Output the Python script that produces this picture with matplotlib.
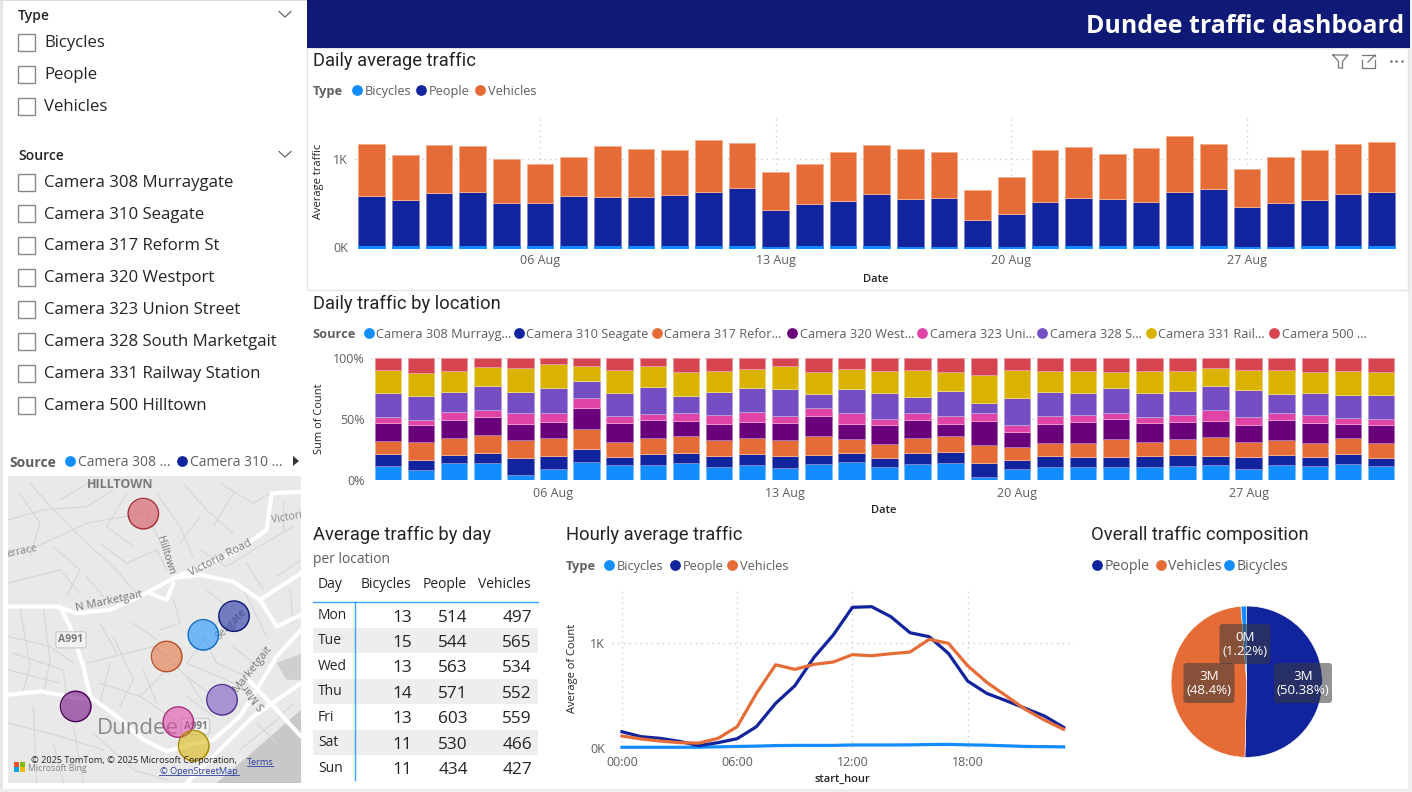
import matplotlib
matplotlib.use('Agg')
import matplotlib.pyplot as plt
from matplotlib.patches import Rectangle, FancyBboxPatch, Polygon

W, H = 1412, 792
plt.rcParams['font.family'] = ['Open Sans', 'DejaVu Sans']

BLUE = '#118DFF'
NAVY = '#12239E'
ORANGE = '#E66C37'
PURPLE = '#6B007B'
PINK = '#E044A7'
VIOLET = '#744EC2'
YELLOW = '#D9B300'
RED = '#D64550'
GREY = '#605E5C'
DARK = '#252423'
TITLE_FONT = ['Roboto', 'DejaVu Sans']

# daily average traffic, 1 to 31 Aug
days = list(range(1, 32))
daily_bicycles = [14, 12, 15, 15, 12, 12, 15, 13, 13, 14, 13, 12, 6, 13, 12, 12,
                  11, 11, 5, 8, 12, 14, 13, 12, 12, 12, 7, 10, 13, 12, 12]
daily_people = [575, 524, 608, 615, 490, 497, 574, 561, 557, 582, 621, 667, 424, 485, 520, 599,
                544, 555, 301, 373, 509, 552, 538, 509, 622, 656, 450, 492, 530, 596, 618]
daily_vehicles = [581, 517, 535, 517, 502, 442, 434, 573, 543, 506, 581, 510, 423, 453, 547, 547,
                  558, 517, 343, 419, 585, 570, 513, 607, 630, 509, 430, 521, 559, 566, 566]
date_ticks = [6, 13, 20, 27]
date_labels = ['06 Aug', '13 Aug', '20 Aug', '27 Aug']

# daily share per camera, percent
cam308 = [11.7, 7.9, 13.9, 13.9, 4.4, 9.0, 14.8, 12.3, 12.6, 13.7, 10.4, 12.3, 9.8, 13.4, 15.0, 10.7,
          12.8, 13.9, 2.5, 9.0, 10.7, 10.4, 10.9, 10.7, 11.2, 12.3, 9.3, 12.0, 11.5, 12.8, 11.2]
cam310 = [9.8, 8.7, 6.8, 8.5, 13.9, 10.9, 10.9, 6.3, 8.7, 8.2, 9.6, 8.7, 10.1, 7.1, 7.4, 7.7,
          9.6, 9.3, 11.7, 7.1, 9.0, 8.2, 8.2, 8.7, 9.6, 7.7, 9.6, 8.7, 7.7, 8.7, 7.1]
cam317 = [10.1, 14.2, 13.7, 14.5, 14.2, 14.5, 16.1, 12.8, 12.8, 13.9, 12.8, 13.4, 12.8, 15.6, 10.9, 11.5,
          12.0, 12.8, 14.5, 10.9, 10.9, 12.0, 14.8, 12.0, 12.6, 15.3, 12.6, 12.0, 11.5, 12.8, 11.7]
cam320 = [15.3, 13.9, 14.5, 14.8, 13.7, 13.4, 17.5, 15.6, 15.3, 12.8, 12.8, 13.1, 13.9, 16.7, 12.8, 15.3,
          15.0, 10.1, 19.9, 12.3, 15.6, 17.2, 16.1, 15.6, 14.5, 13.4, 13.7, 16.7, 16.4, 11.7, 15.3]
cam323 = [4.4, 4.6, 6.8, 5.5, 8.5, 7.4, 7.6, 5.2, 4.9, 6.3, 7.4, 7.9, 5.5, 6.0, 9.0, 4.9,
          5.5, 6.6, 6.0, 6.0, 6.6, 5.2, 4.9, 4.6, 5.7, 9.0, 6.8, 5.2, 6.6, 4.6, 4.6]
cam328 = [19.7, 19.1, 16.7, 20.2, 17.8, 20.2, 14.5, 19.4, 21.9, 13.7, 19.1, 19.7, 22.1, 11.5, 19.1, 21.3,
          13.4, 20.5, 8.7, 22.1, 19.1, 18.0, 20.8, 19.7, 19.7, 19.7, 21.6, 15.6, 18.0, 19.1, 19.9]
cam331 = [19.1, 19.1, 16.9, 15.3, 19.1, 19.4, 12.3, 18.6, 17.2, 19.9, 17.5, 16.1, 19.1, 18.6, 16.4, 18.3,
          21.9, 15.3, 22.9, 22.4, 17.8, 18.0, 12.8, 18.0, 16.4, 14.2, 16.4, 19.9, 16.9, 19.4, 18.9]
cam500 = [9.8, 12.3, 10.7, 7.4, 8.5, 5.2, 6.3, 9.8, 6.6, 11.5, 10.4, 8.7, 6.6, 11.2, 9.3, 10.4,
          9.8, 11.5, 13.7, 10.1, 10.4, 10.9, 11.5, 10.7, 10.4, 8.5, 10.1, 9.8, 11.5, 10.7, 11.2]
camera_series = [cam308, cam310, cam317, cam320, cam323, cam328, cam331, cam500]
camera_colors = [BLUE, NAVY, ORANGE, PURPLE, PINK, VIOLET, YELLOW, RED]

# hourly averages
hours = list(range(24))
hourly_bicycles = [4, 4, 4, 4, 5, 8, 12, 15, 20, 22, 22, 22, 26, 26, 26, 27, 30, 32, 27, 24, 18, 12, 10, 8]
hourly_people = [152, 105, 89, 60, 20, 48, 86, 200, 422, 590, 860, 1073, 1337, 1343, 1248, 1095,
                 1057, 898, 635, 517, 448, 375, 302, 194]
hourly_vehicles = [111, 83, 63, 48, 44, 89, 200, 517, 790, 746, 794, 816, 886, 876, 895, 911,
                   1032, 994, 781, 622, 495, 365, 263, 175]

# table
table_days = ['Mon', 'Tue', 'Wed', 'Thu', 'Fri', 'Sat', 'Sun']
table_bicycles = [13, 15, 13, 14, 13, 11, 11]
table_people = [514, 544, 563, 571, 603, 530, 434]
table_vehicles = [497, 565, 534, 552, 559, 466, 427]

# pie
pie_shares = [50.38, 48.4, 1.22]
pie_colors = [NAVY, ORANGE, BLUE]
pie_labels = ['3M\n(50.38%)', '3M\n(48.4%)', '0M\n(1.22%)']

# slicers
type_items = ['Bicycles', 'People', 'Vehicles']
source_items = ['Camera 308 Murraygate', 'Camera 310 Seagate', 'Camera 317 Reform St', 'Camera 320 Westport',
                'Camera 323 Union Street', 'Camera 328 South Marketgait', 'Camera 331 Railway Station',
                'Camera 500 Hilltown']

# map bubbles, in map units
bubble_x = [610, 702, 500, 227, 535, 666, 581, 430]
bubble_y = [555, 499, 620, 770, 817, 750, 888, 191]
bubble_edges = ['#0D6CC4', '#0B1670', '#B5512A', '#4A0055', '#A8307C', '#4F3490', '#A88A00', '#A5303A']

fig = plt.figure(figsize=(W / 100, H / 100), dpi=100, facecolor='white')


def axes_px(left, top, right, bottom, z=1):
    ax = fig.add_axes([left / W, 1 - bottom / H, (right - left) / W, (bottom - top) / H], zorder=z)
    ax.patch.set_alpha(0)
    for s in ax.spines.values():
        s.set_visible(False)
    return ax


bg = axes_px(0, 0, W, H, z=0)
bg.set_xlim(0, W)
bg.set_ylim(H, 0)
bg.axis('off')


def put(x, y, s, size=9.2, color=GREY, ha='left', va='center', **kw):
    # horizontal text sits a bit high with va=center
    if 'rotation' not in kw:
        y = y + 1.6
    return bg.text(x, y, s, fontsize=size, color=color, ha=ha, va=va, **kw)


def legend_row(title, title_x, y, entries, size=9.2):
    if title:
        put(title_x, y, title, size=size, weight='bold')
    for dot_x, label, col in entries:
        bg.scatter([dot_x], [y], s=60, color=col, linewidths=0, zorder=3)
        put(dot_x + 7.5, y, label, size=size)


def chart_title(x, y, s):
    put(x, y - 0.6, s, size=13.2, color=DARK, family=TITLE_FONT)


def style_axes(ax, xticks, xlabels, yticks, ylabels, pad_x=5):
    ax.set_xticks(xticks, xlabels)
    ax.set_yticks(yticks, ylabels)
    ax.tick_params(length=0, labelsize=9, labelcolor=GREY, pad=pad_x)
    ax.tick_params(axis='y', pad=5)
    ax.grid(True, color='#CDCDCD', linestyle=(0, (1, 3)), linewidth=1)
    ax.set_axisbelow(True)


def tint(col, amount=0.45):
    rgb = matplotlib.colors.to_rgb(col)
    return tuple(c + (1 - c) * amount for c in rgb)


# frames and banner
bg.add_patch(Rectangle((0, 0), 3, H, color='#E6E6E6', lw=0))
bg.add_patch(Rectangle((0, 0), 307, 1, color='#DDDDDD', lw=0))
bg.add_patch(Rectangle((0, 789), W, 3, color='#EDEDED', lw=0))
bg.add_patch(Rectangle((1408, 0), 4, H, color='#F0F0F0', lw=0))
bg.add_patch(Rectangle((307, 48), 1101, 242, facecolor='white', edgecolor='#E4E4E4', lw=1))
bg.add_patch(Rectangle((307, 0), 1103, 48, color='#0E1A75', lw=0))
put(1404, 24.5, 'Dundee traffic dashboard', size=17.9, color='white', ha='right', weight='bold')

# visual header icons
bg.plot([1333, 1348, 1342.5, 1342.5, 1338.5, 1338.5, 1333], [55, 55, 61.5, 68, 68, 61.5, 55], color='#777777', lw=0.9)
bg.plot([1362, 1362, 1375, 1375], [60, 67.5, 67.5, 60], color='#777777', lw=0.9)
bg.plot([1362, 1368], [55, 55], color='#777777', lw=0.9)
bg.plot([1368.5, 1375, 1375], [55, 55, 56], color='#777777', lw=0.9)
bg.plot([1368, 1375], [62, 55], color='#777777', lw=0.9)
bg.scatter([1390.5, 1396, 1401.5], [61, 61, 61], s=3, color='#666666', linewidths=0)


# slicers
def slicer(title, title_y, items, first_y, step):
    put(18, title_y - 1, title, size=10, color=DARK, weight='semibold')
    bg.plot([279, 285, 291], [title_y - 3.5, title_y + 2, title_y - 3.5], color='#666666', lw=0.9)
    for i, item in enumerate(items):
        y = first_y + i * step
        bg.add_patch(Rectangle((18, y - 8.5), 17, 17, facecolor='white', edgecolor='#8A8886', lw=1))
        put(44, y - 1, item, size=12.05, color=DARK)


slicer('Type', 15, type_items, 42, 32)
slicer('Source', 155, source_items, 182, 31.95)

# daily average traffic
ax1 = axes_px(354.7, 116, 1398.4, 247.5)
bottom2 = [b + p for b, p in zip(daily_bicycles, daily_people)]
ax1.bar(days, daily_people, bottom=daily_bicycles, width=0.79, color=NAVY, edgecolor=tint(NAVY), linewidth=0.7)
ax1.bar(days, daily_vehicles, bottom=bottom2, width=0.79, color=ORANGE, edgecolor=tint(ORANGE), linewidth=0.7)
ax1.bar(days, daily_bicycles, width=0.79, color=BLUE, edgecolor=BLUE, linewidth=0.7, zorder=3, clip_on=False)
ax1.set_xlim(0.5, 31.5)
ax1.set_ylim(0, 1490)
style_axes(ax1, date_ticks, date_labels, [0, 1000], ['0K', '1K'])
chart_title(313, 60, 'Daily average traffic')
legend_row('Type', 313, 90, [(357, 'Bicycles', BLUE), (421, 'People', NAVY), (480, 'Vehicles', ORANGE)])
put(319, 181, 'Average traffic', size=8, color=DARK, rotation=90, ha='center')
put(876, 278, 'Date', size=8, color=DARK, ha='center', weight='semibold')

# daily traffic by location
ax2 = axes_px(371.4, 358, 1397.6, 480)
day_tot = [sum(c[i] for c in camera_series) for i in range(len(days))]
base = [0] * len(days)
for vals, col in zip(camera_series, camera_colors):
    shares = [100 * v / t for v, t in zip(vals, day_tot)]
    ax2.bar(days, shares, bottom=base, width=0.8, color=col, edgecolor=tint(col), linewidth=0.7)
    base = [b + s for b, s in zip(base, shares)]
ax2.set_xlim(0.5, 31.5)
ax2.set_ylim(0, 100)
style_axes(ax2, date_ticks, date_labels, [0, 50, 100], ['0%', '50%', '100%'])
chart_title(313, 303, 'Daily traffic by location')
legend_row('Source', 312, 333, [
    (369, 'Camera 308 Murrayg...', BLUE), (519, 'Camera 310 Seagate', NAVY), (657, 'Camera 317 Refor...', ORANGE),
    (792, 'Camera 320 West...', PURPLE), (922, 'Camera 323 Uni...', PINK), (1042, 'Camera 328 S...', VIOLET),
    (1151, 'Camera 331 Rail...', YELLOW), (1274, 'Camera 500 ...', RED)])
put(319, 419, 'Sum of Count', size=8, color=DARK, rotation=90, ha='center')
put(884, 509, 'Date', size=8, color=DARK, ha='center', weight='semibold')
bg.add_patch(Rectangle((307, 290), 1101, 1, color='#E4E4E4', lw=0))

# table
chart_title(313, 534, 'Average traffic by day')
put(313, 558, 'per location', size=10)
put(318, 583, 'Day', size=10, color=DARK)
put(411, 583, 'Bicycles', size=10, color=DARK, ha='right')
put(467, 583, 'People', size=10, color=DARK, ha='right')
put(531, 583, 'Vehicles', size=10, color=DARK, ha='right')
row_h = 25.4
for i, d in enumerate(table_days):
    y = 615 + i * row_h
    if i % 2 == 1:
        bg.add_patch(Rectangle((313, y - 12.5), 225, row_h, color='#EEEEEE', lw=0, zorder=0))
    put(318, y - 1, d, size=10, color=DARK)
    put(412, y + 1, str(table_bicycles[i]), size=12.4, color=DARK, ha='right')
    put(468, y + 1, str(table_people[i]), size=12.4, color=DARK, ha='right')
    put(532, y + 1, str(table_vehicles[i]), size=12.4, color=DARK, ha='right')
bg.plot([313, 538], [602, 602], color=BLUE, lw=1, alpha=0.8)
bg.plot([354.5, 354.5], [602, 780], color=BLUE, lw=1, alpha=0.8)

# hourly average traffic
ax3 = axes_px(612, 588, 1074, 747.7)
ax3.plot(hours, hourly_bicycles, color=BLUE, lw=2.3, clip_on=False, solid_joinstyle='round')
ax3.plot(hours, hourly_people, color=NAVY, lw=2.3, clip_on=False, solid_joinstyle='round')
ax3.plot(hours, hourly_vehicles, color=ORANGE, lw=2.3, clip_on=False, solid_joinstyle='round')
ax3.set_xlim(-0.52, 23.54)
ax3.set_ylim(0, 1521)
style_axes(ax3, [0, 6, 12, 18], ['00:00', '06:00', '12:00', '18:00'], [0, 1000], ['0K', '1K'], pad_x=6)
chart_title(566, 534, 'Hourly average traffic')
legend_row('Type', 566, 565, [(609, 'Bicycles', BLUE), (675, 'People', NAVY), (732, 'Vehicles', ORANGE)])
put(573, 668, 'Average of Count', size=8, color=DARK, rotation=90, ha='center')
put(842, 778, 'start_hour', size=8, color=DARK, ha='center', weight='semibold')

# overall composition
ax4 = axes_px(1246.7 - 76, 681.7 - 76, 1246.7 + 76, 681.7 + 76)
ax4.pie(pie_shares, colors=pie_colors, startangle=90, counterclock=False, radius=1,
        wedgeprops={'edgecolor': 'white', 'linewidth': 0.4})
ax4.set_xlim(-1.005, 1.005)
ax4.set_ylim(-1.005, 1.005)
chart_title(1091, 534, 'Overall traffic composition')
legend_row('', 1091, 565, [(1097, 'People', NAVY), (1161, 'Vehicles', ORANGE), (1229, 'Bicycles', BLUE)], size=10.2)
pie_ov = axes_px(0, 0, W, H, z=2)
pie_ov.set_xlim(0, W)
pie_ov.set_ylim(H, 0)
pie_ov.axis('off')
for (cx, cy, bw), lab in zip([(1303, 683, 58), (1209, 683, 51), (1245, 644, 51)], pie_labels):
    pie_ov.add_patch(FancyBboxPatch((cx - bw / 2 + 3, cy - 17), bw - 6, 34, boxstyle='round,pad=3,rounding_size=3',
                                    facecolor='#3A3A3A', edgecolor='none', alpha=0.55))
    pie_ov.text(cx, cy + 0.5, lab, color='white', fontsize=9.6, ha='center', va='center', linespacing=1.1)

# map legend
legend_row('Source', 9, 461, [(70, 'Camera 308 ...', BLUE), (182, 'Camera 310 ...', NAVY)], size=10)
bg.add_patch(Polygon([(293, 456), (299, 461), (293, 466)], color='#333333', lw=0))

# map, units follow the crop of the basemap
m = axes_px(8, 476, 301, 783)
m.set_xlim(24, 903)
m.set_ylim(1000, 78)
m.axis('off')
m.add_patch(Rectangle((24, 78), 879, 922, color='#E9E9E9', lw=0))
m.add_patch(Polygon([(903, 780), (800, 870), (650, 1000), (903, 1000)], color='#C8C8C8', lw=0))
m.add_patch(Polygon([(830, 640), (903, 612), (903, 690), (860, 690)], color='#CFCFCF', lw=0))

thin_roads = [
    [(24, 210), (130, 180), (260, 170), (340, 120)], [(24, 320), (120, 285), (260, 220), (430, 190)],
    [(90, 100), (170, 190), (260, 280), (340, 350), (400, 420)], [(440, 190), (520, 360)],
    [(550, 100), (620, 180), (700, 250)], [(24, 560), (150, 590), (220, 640)], [(60, 470), (90, 650), (70, 720)],
    [(130, 480), (150, 630), (130, 740)], [(260, 640), (460, 590), (500, 620)], [(500, 620), (560, 680), (610, 760)],
    [(610, 555), (650, 640), (740, 680)], [(480, 540), (540, 520), (520, 450)], [(300, 700), (420, 740), (535, 817)],
    [(420, 740), (500, 660)], [(24, 820), (180, 860), (310, 900)], [(100, 770), (110, 1000)], [(220, 830), (250, 1000)],
    [(340, 560), (400, 690), (360, 770)], [(660, 100), (760, 160), (810, 130)], [(600, 300), (680, 350), (760, 300), (880, 230)],
    [(300, 280), (380, 340), (470, 300), (500, 360)], [(620, 420), (680, 470), (640, 540)], [(730, 420), (800, 560)],
    [(560, 680), (640, 740)], [(720, 900), (820, 820), (880, 760)], [(620, 560), (560, 640), (700, 700)],
    [(180, 150), (280, 90)], [(24, 400), (180, 360), (240, 430)], [(830, 380), (903, 330)], [(850, 150), (850, 240)],
    [(60, 130), (120, 220), (90, 320)], [(160, 290), (240, 360), (200, 440)], [(260, 380), (310, 440)],
    [(380, 130), (320, 230), (400, 290)], [(470, 130), (540, 230), (580, 320)], [(600, 200), (540, 280)],
    [(700, 130), (640, 230)], [(740, 340), (790, 420)], [(40, 610), (190, 660), (200, 740)], [(24, 660), (180, 700)],
    [(300, 520), (350, 610)], [(400, 520), (470, 570)], [(280, 850), (400, 960), (500, 990)], [(160, 880), (190, 1000)],
    [(330, 640), (300, 760)], [(430, 660), (470, 760)], [(700, 590), (760, 640)], [(870, 420), (880, 520)],
    [(560, 740), (640, 800)], [(770, 820), (830, 880)],
]
for road in thin_roads:
    m.plot(*zip(*road), color='#D6D6D6', lw=0.8, solid_capstyle='round')
main_roads = [
    [(24, 470), (170, 470), (230, 490), (330, 480), (420, 440), (520, 385), (600, 375), (700, 395), (780, 450), (830, 530), (903, 495)],
    [(180, 470), (210, 530), (250, 650), (270, 740), (350, 800), (430, 870), (500, 905), (570, 885), (640, 870), (720, 800), (770, 720), (830, 620), (903, 540)],
    [(520, 385), (600, 350), (700, 310), (800, 240), (815, 130), (903, 125)],
    [(270, 750), (120, 725), (24, 735)], [(780, 450), (903, 370)], [(745, 690), (830, 780), (903, 860)],
    [(560, 1000), (650, 910), (760, 800), (860, 730), (903, 700)],
    [(450, 430), (500, 450), (520, 400)],
]
for road in main_roads:
    m.plot(*zip(*road), color='white', lw=3, solid_capstyle='round', solid_joinstyle='round')


def map_text(x, y, s, size=7.5, col='#8A8A8A', rot=0, **kw):
    m.text(x, y, s, fontsize=size, color=col, rotation=rot, ha='center', va='center', clip_on=True, **kw)


map_text(360, 105, 'HILLTOWN', size=9, col='#7A7A7A', weight='bold')
map_text(497, 315, 'Hilltown', rot=-73, col='#777777')
map_text(662, 325, 'Victoria Road', size=8, rot=27, col='#777777')
map_text(860, 205, 'Victori', rot=10)
map_text(65, 303, 'errace', rot=12)
map_text(328, 455, 'N Marketgait', size=8, rot=12, col='#777777')
map_text(695, 525, 'Seagate', rot=45)
map_text(760, 655, 'Marketgait', size=8, rot=52, col='#777777')
map_text(762, 738, 'S Mar', size=8, rot=130, col='#777777')
map_text(415, 836, 'Dundee', size=16, col='#8A8A8A', weight='medium')
for bx, by, bs in [(213, 570, 7.5), (586, 830, 7)]:
    m.text(bx, by, 'A991', fontsize=bs, color='#777777', weight='bold', ha='center', va='center',
           bbox={'boxstyle': 'round,pad=0.25', 'fc': '#F2F2F2', 'ec': '#D0D0D0', 'lw': 1}, zorder=2)

for x, y, col, edge in zip(bubble_x, bubble_y, camera_colors, bubble_edges):
    m.scatter([x], [y], s=480, color=col, alpha=0.55, linewidths=0, zorder=4)
    m.scatter([x], [y], s=480, facecolors='none', edgecolors=edge, linewidths=1, zorder=4)

m.text(403, 933, '© 2025 TomTom, © 2025 Microsoft Corporation,', fontsize=6.6, color='#222222', ha='center', va='center', zorder=5)
m.text(597, 964, '© OpenStreetMap', fontsize=6.6, color='#2A3F9E', ha='center', va='center', zorder=5)
m.plot([478, 717], [977, 977], color='#2A3F9E', lw=0.6, zorder=5)
m.text(780, 937, 'Terms', fontsize=6.6, color='#2A3F9E', ha='center', va='center', zorder=5)
m.plot([741, 820], [950, 950], color='#2A3F9E', lw=0.6, zorder=5)
m.text(83, 955, 'Microsoft Bing', fontsize=6.2, color='#808080', ha='left', va='center', zorder=5)
for (qx, qy), qc in zip([(42, 936), (59, 936), (42, 953), (59, 953)], ['#F25022', '#7FBA00', '#00A4EF', '#FFB900']):
    m.add_patch(Rectangle((qx, qy), 15, 15, color=qc, lw=0, zorder=5))

fig.savefig('out.png', dpi=100)
